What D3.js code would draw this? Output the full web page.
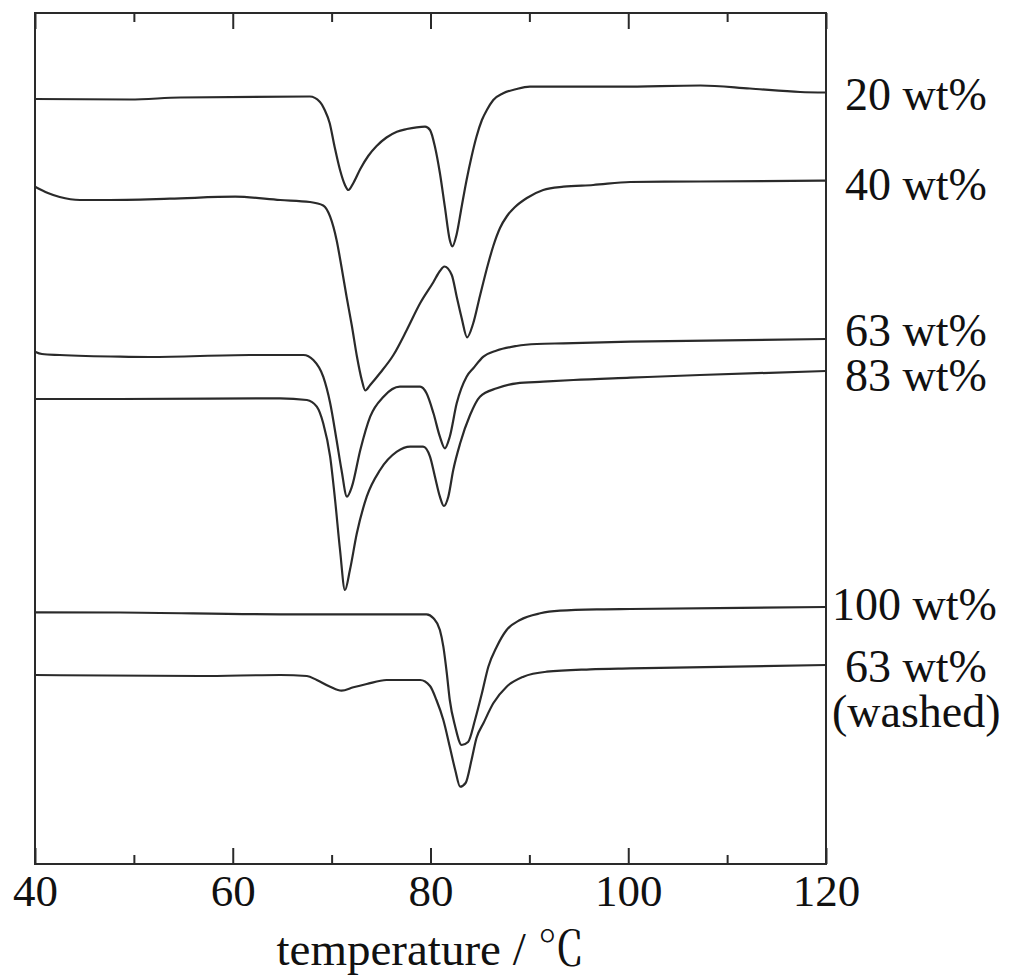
<!DOCTYPE html>
<html>
<head>
<meta charset="utf-8">
<script src="https://cdn.jsdelivr.net/npm/d3@7"></script>
<style>
  html, body { margin: 0; padding: 0; background: #fff; }
  svg { display: block; }
  text { font-family: "Liberation Serif", "Times New Roman", "Noto Serif CJK JP", "Noto Sans CJK JP", serif; fill: #111; }
</style>
</head>
<body>
<svg id="chart" width="1011" height="976"></svg>
<script>
// DSC traces, [temperature (°C), heat flow (a.u., offset)]
var curve20 = [[40, 76.5], [49.6, 76.45], [54.7, 76.65], [67.8, 76.75], [68.8, 76.23], [69.3, 75.4], [69.8, 74.1], [70.3, 71.73], [70.85, 69.4], [71.35, 67.9], [71.7, 67.4], [72.2, 68.1], [72.9, 69.5], [73.7, 70.8], [74.55, 71.8], [75.55, 72.65], [76.6, 73.23], [77.6, 73.5], [78.6, 73.67], [79.45, 73.73], [79.95, 73.4], [80.45, 71.73], [80.95, 69.1], [81.45, 65.73], [81.95, 62.4], [82.2, 61.75], [82.65, 63.0], [83.15, 65.73], [83.65, 68.4], [84.15, 70.73], [84.65, 72.73], [85.2, 74.4], [85.7, 75.4], [86.35, 76.4], [87.35, 77.07], [88.7, 77.5], [90.05, 77.73], [99.2, 77.73], [107.3, 77.85], [112.3, 77.55], [117.4, 77.2], [120, 77.15]];
var curve40 = [[40, 67.73], [41.3, 67.1], [42.5, 66.7], [44.55, 66.4], [47.1, 66.4], [53.65, 66.53], [60.25, 66.73], [64.8, 66.4], [67.8, 66.2], [69.15, 65.85], [69.85, 64.73], [70.5, 62.4], [71.0, 59.7], [71.5, 56.8], [72.05, 53.8], [72.55, 50.8], [73.05, 48.4], [73.4, 47.35], [73.9, 47.9], [74.9, 49.1], [76.25, 50.9], [77.6, 53.4], [78.95, 56.07], [80.3, 58.2], [80.95, 59.3], [81.4, 59.75], [82.15, 58.9], [82.65, 56.73], [83.15, 54.6], [83.7, 52.67], [84.3, 54.0], [85.0, 56.8], [85.85, 60.1], [86.35, 61.8], [87.03, 63.6], [87.74, 64.8], [88.55, 65.7], [89.75, 66.6], [91.4, 67.4], [93.45, 67.73], [96.45, 67.9], [100.2, 68.2], [107.3, 68.25], [120, 68.33]];
var curve63 = [[40, 51.23], [40.7, 51.0], [42.5, 50.9], [48.6, 50.73], [51.6, 50.7], [61.75, 50.9], [67.15, 50.9], [68.15, 50.4], [69.15, 48.73], [69.85, 46.1], [70.5, 42.4], [71.0, 39.4], [71.55, 36.73], [72.05, 37.73], [72.9, 41.4], [73.9, 44.73], [75.25, 46.73], [76.9, 47.73], [78.95, 47.73], [79.6, 47.07], [80.3, 45.07], [80.95, 42.73], [81.45, 41.57], [81.95, 42.73], [82.65, 46.07], [83.65, 48.73], [84.35, 49.6], [85.35, 50.73], [86.7, 51.35], [88.7, 51.8], [90.75, 52.0], [93.45, 52.07], [100.2, 52.23], [120, 52.5]];
var curve83 = [[40, 46.5], [48.6, 46.5], [64.8, 46.57], [67.5, 46.4], [68.5, 45.73], [69.15, 44.07], [69.85, 40.73], [70.35, 36.4], [70.85, 31.4], [71.35, 27.4], [71.85, 29.4], [72.55, 33.07], [73.55, 36.73], [74.9, 39.4], [76.6, 41.23], [77.95, 41.73], [79.25, 41.73], [79.95, 40.73], [80.45, 38.73], [80.95, 36.73], [81.35, 35.8], [81.8, 36.73], [82.3, 39.4], [83.0, 42.07], [84.0, 44.9], [85.0, 46.73], [86.7, 47.57], [88.7, 48.07], [91.4, 48.23], [94.45, 48.4], [100.2, 48.63], [107.25, 48.9], [120, 49.3]];
var curve100 = [[40, 25.17], [48.6, 25.15], [64.8, 24.97], [79.6, 24.97], [80.3, 24.57], [80.95, 23.4], [81.3, 21.73], [81.65, 19.07], [81.95, 16.4], [82.5, 13.73], [83.15, 11.9], [83.8, 12.2], [84.5, 14.4], [85.2, 17.07], [85.85, 19.73], [86.7, 21.73], [87.7, 23.4], [89.05, 24.4], [91.1, 25.07], [93.1, 25.33], [97.15, 25.47], [100.2, 25.5], [120, 25.7]];
var curve63w = [[40, 18.9], [56.7, 18.8], [64.8, 18.9], [67.5, 18.8], [68.5, 18.4], [69.85, 17.73], [71.0, 17.33], [72.2, 17.67], [73.55, 18.0], [75.55, 18.4], [78.95, 18.4], [79.95, 17.8], [80.6, 16.4], [81.3, 14.4], [81.95, 11.73], [82.5, 9.4], [83.0, 7.73], [83.55, 8.1], [84.15, 10.4], [84.65, 12.6], [85.35, 14.07], [86.35, 16.07], [87.7, 17.73], [89.4, 18.73], [91.75, 19.23], [96.15, 19.47], [100.2, 19.57], [120, 19.9]];

var majorTicks = [40, 60, 80, 100, 120];
var minorTicks = [50, 70, 90, 110];

// labels on the right, one line each; the value is the heat flow level of its baseline
var labelNames = ["20 wt%", "40 wt%", "63 wt%", "83 wt%", "100 wt%", "63 wt%", "(washed)"];
var labelLevels = [75.4, 66.4, 51.8, 47.3, 24.4, 18.2, 13.7];
var labelShift = [0, 0, 0, 0, -13, 0, -13];

var series = [curve20, curve40, curve63, curve83, curve100, curve63w];

var svg = d3.select("#chart"),
    mLeft = 35, mRight = 826, mTop = 13, mBottom = 864;

var x = d3.scaleLinear().domain([40, 120]).range([mLeft, mRight]);
var y = d3.scaleLinear().domain([0, 85.1]).range([mBottom, mTop]);

var line = d3.line()
    .x(function(d) { return x(d[0]); })
    .y(function(d) { return y(d[1]); })
    .curve(d3.curveMonotoneX);

//cadre
svg.append("rect")
    .attr("x", mLeft).attr("y", mTop)
    .attr("width", mRight - mLeft).attr("height", mBottom - mTop)
    .attr("fill", "none").attr("stroke", "#2a2a2a").attr("stroke-width", 2);

// bottom axis, ticks pointing inward
var gx = svg.append("g")
    .attr("transform", "translate(0," + mBottom + ")")
    .call(d3.axisBottom(x).tickValues(majorTicks).tickSize(-16).tickSizeOuter(0).tickPadding(10).tickFormat(d3.format("d")));
svg.append("g")
    .attr("transform", "translate(0," + mBottom + ")")
    .call(d3.axisBottom(x).tickValues(minorTicks).tickSize(-9).tickSizeOuter(0).tickFormat(""));
svg.append("g")
    .attr("transform", "translate(0," + mTop + ")")
    .call(d3.axisTop(x).tickValues(majorTicks).tickSize(-16).tickSizeOuter(0).tickFormat(""));
svg.append("g")
    .attr("transform", "translate(0," + mTop + ")")
    .call(d3.axisTop(x).tickValues(minorTicks).tickSize(-9).tickSizeOuter(0).tickFormat(""));

svg.selectAll(".domain").remove();
svg.selectAll(".tick line").attr("stroke", "#2a2a2a").attr("stroke-width", 2);
gx.selectAll(".tick text").attr("font-size", 45).attr("fill", "#111")
    .style("font-family", "'Liberation Serif', 'Times New Roman', serif");

// axis title
svg.append("text")
    .attr("x", (mLeft + mRight) / 2)
    .attr("y", 965)
    .attr("text-anchor", "middle")
    .attr("font-size", 47)
    .text("temperature / ℃");

// traces
svg.selectAll(".trace")
    .data(series)
    .enter().append("path")
    .attr("class", "trace")
    .attr("d", line)
    .attr("fill", "none")
    .attr("stroke", "#2a2a2a")
    .attr("stroke-width", 2.2);

// labels
svg.selectAll(".lab")
    .data(labelNames)
    .enter().append("text")
    .attr("class", "lab")
    .attr("x", function(d, i) { return mRight + 19 + labelShift[i]; })
    .attr("y", function(d, i) { return y(labelLevels[i]); })
    .attr("font-size", 46)
    .text(function(d) { return d; });
</script>
</body>
</html>
